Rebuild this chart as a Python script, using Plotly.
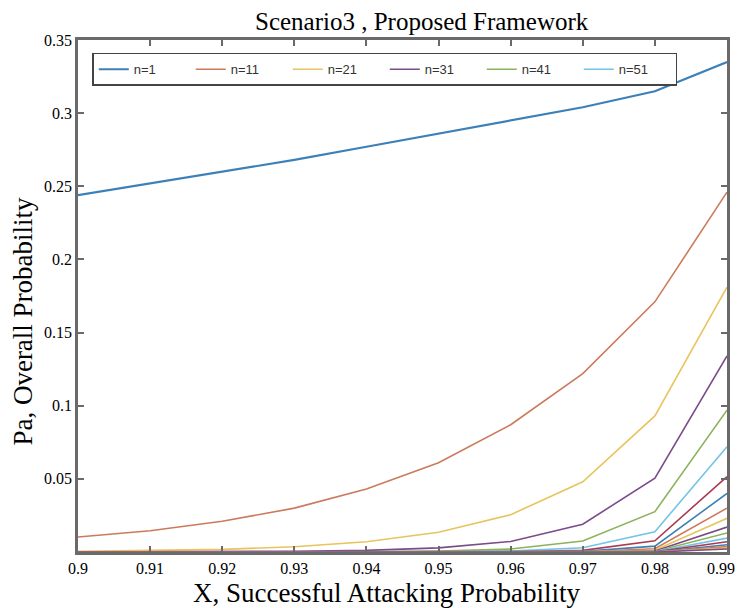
import plotly.graph_objects as go

x_vals = [0.90, 0.91, 0.92, 0.93, 0.94, 0.95, 0.96, 0.97, 0.98, 0.99]

n_labels = ["n=1", "n=11", "n=21", "n=31", "n=41", "n=51", "n=61", "n=71", "n=81",
            "n=91", "n=101", "n=111", "n=121", "n=131", "n=141", "n=151", "n=161", "n=171"]

n1 = [0.244, 0.252, 0.260, 0.268, 0.277, 0.286, 0.295, 0.304, 0.315, 0.335]
n11 = [0.0103, 0.0145, 0.021, 0.030, 0.043, 0.061, 0.087, 0.122, 0.171, 0.246]
n21 = [0.0004, 0.0009, 0.0018, 0.0036, 0.0070, 0.0135, 0.0255, 0.0480, 0.0930, 0.181]
n31 = [0.0, 0.0001, 0.0002, 0.0005, 0.0011, 0.0028, 0.0072, 0.0190, 0.0505, 0.134]
n41 = [0.0, 0.0, 0.0, 0.0001, 0.0002, 0.0006, 0.0020, 0.0075, 0.0276, 0.097]
n51 = [0.0, 0.0, 0.0, 0.0, 0.0, 0.0001, 0.0006, 0.0029, 0.0139, 0.072]
n61 = [0.0, 0.0, 0.0, 0.0, 0.0, 0.0, 0.0002, 0.0011, 0.0077, 0.0515]
n71 = [0.0, 0.0, 0.0, 0.0, 0.0, 0.0, 0.0, 0.0004, 0.0040, 0.040]
n81 = [0.0, 0.0, 0.0, 0.0, 0.0, 0.0, 0.0, 0.0002, 0.0022, 0.030]
n91 = [0.0, 0.0, 0.0, 0.0, 0.0, 0.0, 0.0, 0.0, 0.0012, 0.023]
n101 = [0.0, 0.0, 0.0, 0.0, 0.0, 0.0, 0.0, 0.0, 0.0007, 0.017]
n111 = [0.0, 0.0, 0.0, 0.0, 0.0, 0.0, 0.0, 0.0, 0.0004, 0.013]
n121 = [0.0, 0.0, 0.0, 0.0, 0.0, 0.0, 0.0, 0.0, 0.0002, 0.0095]
n131 = [0.0, 0.0, 0.0, 0.0, 0.0, 0.0, 0.0, 0.0, 0.0001, 0.0070]
n141 = [0.0, 0.0, 0.0, 0.0, 0.0, 0.0, 0.0, 0.0, 0.0, 0.0050]
n151 = [0.0, 0.0, 0.0, 0.0, 0.0, 0.0, 0.0, 0.0, 0.0, 0.0037]
n161 = [0.0, 0.0, 0.0, 0.0, 0.0, 0.0, 0.0, 0.0, 0.0, 0.0027]
n171 = [0.0, 0.0, 0.0, 0.0, 0.0, 0.0, 0.0, 0.0, 0.0, 0.0020]

series = [n1, n11, n21, n31, n41, n51, n61, n71, n81, n91, n101, n111,
          n121, n131, n141, n151, n161, n171]

x_tick_vals = [0.90, 0.91, 0.92, 0.93, 0.94, 0.95, 0.96, 0.97, 0.98, 0.99]
x_tick_text = ["0.9", "0.91", "0.92", "0.93", "0.94", "0.95", "0.96", "0.97", "0.98",
               "0.99\u00a0\u00a0\u00a0"]
y_tick_vals = [0.05, 0.10, 0.15, 0.20, 0.25, 0.30, 0.35]
y_tick_text = ["0.05", "0.1", "0.15", "0.2", "0.25", "0.3", "0.35"]

palette = ["#3d80b8", "#cc7a5c", "#e8c45e", "#7b4b8a", "#8cb25c", "#72c4e8", "#a83c52"]

fig = go.Figure()
for i, (lab, ys) in enumerate(zip(n_labels, series)):
    fig.add_trace(go.Scatter(
        x=x_vals, y=ys, mode="lines", name=lab,
        line=dict(color=palette[i % len(palette)], width=2.2 if i == 0 else 1.6),
        showlegend=(i < 6),
    ))

serif = "Liberation Serif"
axis_col = "#6a6a6a"

fig.update_layout(
    width=738, height=608,
    margin=dict(l=78, r=11, t=40, b=56),
    paper_bgcolor="white", plot_bgcolor="white",
    showlegend=True,
    legend=dict(
        orientation="h",
        x=0.022, y=0.975, xanchor="left", yanchor="top",
        bgcolor="white", bordercolor="#444444", borderwidth=1.5,
        font=dict(family="Liberation Sans", size=13, color="#333333"),
        entrywidth=52, entrywidthmode="pixels",
        tracegroupgap=0,
    ),
    annotations=[
        dict(text="Scenario3 , Proposed Framework", xref="paper", yref="paper",
             x=0.53, y=1.0, xanchor="center", yanchor="bottom", yshift=3,
             showarrow=False, font=dict(family=serif, size=25, color="black")),
        dict(text="X, Successful Attacking Probability", xref="paper", yref="paper",
             x=0.475, y=0, xanchor="center", yanchor="top", yshift=-24,
             showarrow=False, font=dict(family=serif, size=27, color="black")),
        dict(text="Pa, Overall Probability", xref="paper", yref="paper",
             x=0, y=0.45, xanchor="right", yanchor="middle", xshift=-38,
             textangle=-90,
             showarrow=False, font=dict(family=serif, size=27, color="black")),
    ],
)

fig.update_xaxes(
    range=[0.9, 0.99], tickvals=x_tick_vals, ticktext=x_tick_text,
    showgrid=False, zeroline=False, automargin=False,
    ticklabeloverflow="allow",
    showline=True, linecolor=axis_col, linewidth=2.5, mirror="ticks",
    ticks="inside", ticklen=6, tickwidth=2, tickcolor=axis_col,
    tickfont=dict(family=serif, size=16, color="black"),
)
fig.update_yaxes(
    range=[0, 0.35], tickvals=y_tick_vals, ticktext=y_tick_text,
    showgrid=False, zeroline=False, automargin=False,
    showline=True, linecolor=axis_col, linewidth=2.5, mirror="ticks",
    ticks="inside", ticklen=6, tickwidth=2, tickcolor=axis_col,
    tickfont=dict(family=serif, size=16, color="black"),
)

fig.write_html(
    "out.html",
    config={"responsive": False, "displayModeBar": False},
    post_script="document.body.style.margin='0';document.body.style.overflow='hidden';",
)
